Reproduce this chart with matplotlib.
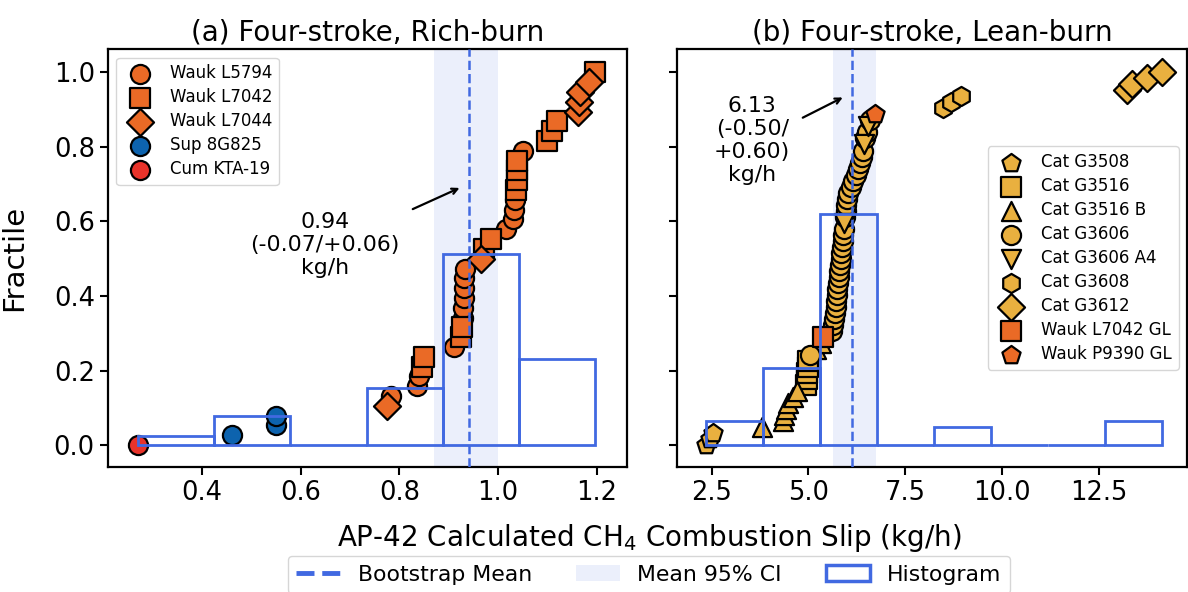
import numpy as np
import matplotlib
matplotlib.use('Agg')
import matplotlib.pyplot as plt
from matplotlib.lines import Line2D
from matplotlib.patches import Patch

ORANGE = '#EA6A26'
BLUE = '#0D63AE'
RED = '#E8332A'
GOLD = '#E9B03F'
HIST = 'royalblue'

# (a) rich-burn engines, kg/h
rich_labels = ['Wauk L5794', 'Wauk L7042', 'Wauk L7044', 'Sup 8G825', 'Cum KTA-19']
rich_markers = ['o', 's', 'D', 'o', 'o']
rich_colors = [ORANGE, ORANGE, ORANGE, BLUE, RED]
rich_values = [
    [0.783, 0.835, 0.840, 0.911, 0.928, 0.929, 0.930, 0.930, 0.931, 0.932,
     1.016, 1.030, 1.033, 1.035, 1.051],
    [0.845, 0.850, 0.925, 0.927, 0.971, 0.985, 1.037, 1.038, 1.038, 1.039,
     1.099, 1.109, 1.120, 1.197],
    [0.775, 0.966, 1.162, 1.164, 1.166, 1.183],
    [0.461, 0.550, 0.551],
    [0.270],
]
rich_mean, rich_lo, rich_hi = 0.94, 0.87, 1.00

# (b) lean-burn engines, kg/h
lean_labels = ['Cat G3508', 'Cat G3516', 'Cat G3516 B', 'Cat G3606', 'Cat G3606 A4',
               'Cat G3608', 'Cat G3612', 'Wauk L7042 GL', 'Wauk P9390 GL']
lean_markers = ['p', 's', '^', 'o', 'v', 'h', 'D', 's', 'p']
lean_colors = [GOLD, GOLD, GOLD, GOLD, GOLD, GOLD, GOLD, ORANGE, ORANGE]
lean_values = [
    [2.35, 2.45, 2.53],
    [4.94, 4.96, 4.97, 4.98, 5.00],
    [3.79, 4.35, 4.38, 4.42, 4.48, 4.61, 4.70, 5.20, 5.33],
    [5.04, 5.62, 5.64, 5.66, 5.68, 5.70, 5.71, 5.73, 5.75, 5.77, 5.78, 5.80,
     5.82, 5.84, 5.85, 5.87, 5.88, 5.90, 5.91, 5.94, 5.96, 5.97, 5.99, 6.03,
     6.09, 6.16, 6.24, 6.29, 6.34, 6.38, 6.41, 6.47, 6.50, 6.58],
    [5.93, 6.44, 6.53],
    [8.46, 8.69, 8.93],
    [13.21, 13.34, 13.73, 14.13],
    [5.38],
    [6.71],
]
lean_mean, lean_lo, lean_hi = 6.13, 5.63, 6.74


def fractiles(groups):
    allv = np.concatenate([np.array(g, dtype=float) for g in groups])
    order = np.argsort(allv, kind='stable')
    rank = np.empty(len(allv))
    rank[order] = np.arange(len(allv))
    frac = rank / (len(allv) - 1)
    out = []
    i = 0
    for g in groups:
        out.append(frac[i:i + len(g)])
        i += len(g)
    return allv, out


def draw_panel(ax, groups, labels, markers, colors, nbins, mean, lo, hi):
    allv, fr = fractiles(groups)
    ax.axvspan(lo, hi, color=HIST, alpha=0.1, lw=0, zorder=0)
    for vals, f, lab, m, c in zip(groups, fr, labels, markers, colors):
        ax.scatter(vals, f, s=190, marker=m, facecolor=c, edgecolor='k',
                   linewidths=1.6, label=lab, zorder=3)
    ax.hist(allv, bins=nbins, weights=np.ones(len(allv)) / len(allv),
            fill=False, edgecolor=HIST, linewidth=2, zorder=4)
    ax.axvline(mean, color=HIST, ls='--', lw=1.8, zorder=5)


plt.rcParams['font.family'] = 'DejaVu Sans'
fig = plt.figure(figsize=(11.88, 5.92), dpi=100)
ax1 = fig.add_axes([0.0909, 0.2117, 0.4369, 0.7051])
ax2 = fig.add_axes([0.5699, 0.2117, 0.4293, 0.7051], sharey=ax1)

draw_panel(ax1, rich_values, rich_labels, rich_markers, rich_colors, 6,
           rich_mean, rich_lo, rich_hi)
draw_panel(ax2, lean_values, lean_labels, lean_markers, lean_colors, 8,
           lean_mean, lean_lo, lean_hi)

ax1.set_xlim(0.21, 1.261)
ax2.set_xlim(1.61, 14.77)
ax1.set_ylim(-0.058, 1.062)
ax1.set_xticks([0.4, 0.6, 0.8, 1.0, 1.2])
ax2.set_xticks([2.5, 5.0, 7.5, 10.0, 12.5])
ax1.set_yticks([0.0, 0.2, 0.4, 0.6, 0.8, 1.0])
plt.setp(ax2.get_yticklabels(), visible=False)

for ax in (ax1, ax2):
    ax.tick_params(labelsize=18.5, width=1.5, length=6)
    for sp in ax.spines.values():
        sp.set_linewidth(1.6)

ax1.set_title('(a) Four-stroke, Rich-burn', fontsize=20)
ax2.set_title('(b) Four-stroke, Lean-burn', fontsize=20)
ax1.set_ylabel('Fractile', fontsize=21)
ax1.yaxis.set_label_coords(-0.154, 0.5)

ax1.legend(loc='upper left', fontsize=12, labelspacing=0.36)
ax2.legend(loc='center right', fontsize=12, labelspacing=0.36)

ax1.text(0.65, 0.537, '0.94\n(-0.07/+0.06)\nkg/h', ha='center', va='center', fontsize=15.8)
ax1.annotate('', xy=(0.927, 0.693), xytext=(0.822, 0.63),
             arrowprops=dict(arrowstyle='->', color='k', lw=1.6))
ax2.text(3.55, 0.817, '6.13\n(-0.50/\n+0.60)\nkg/h', ha='center', va='center', fontsize=15.8)
ax2.annotate('', xy=(5.95, 0.936), xytext=(4.79, 0.875),
             arrowprops=dict(arrowstyle='->', color='k', lw=1.6))

fig.text(0.5463, 0.0912, 'AP-42 Calculated CH$_4$ Combustion Slip (kg/h)',
         ha='center', va='center', fontsize=20)

handles = [Line2D([0], [0], color=HIST, ls='--', lw=3.5),
           Patch(facecolor=HIST, alpha=0.1, lw=0),
           Patch(facecolor='none', edgecolor=HIST, lw=2.5)]
fig.legend(handles, ['Bootstrap Mean', 'Mean 95% CI', 'Histogram'], ncol=3,
           loc='upper center', bbox_to_anchor=(0.5463, 0.0794), fontsize=15.8)

fig.savefig('out.png', dpi=100)
